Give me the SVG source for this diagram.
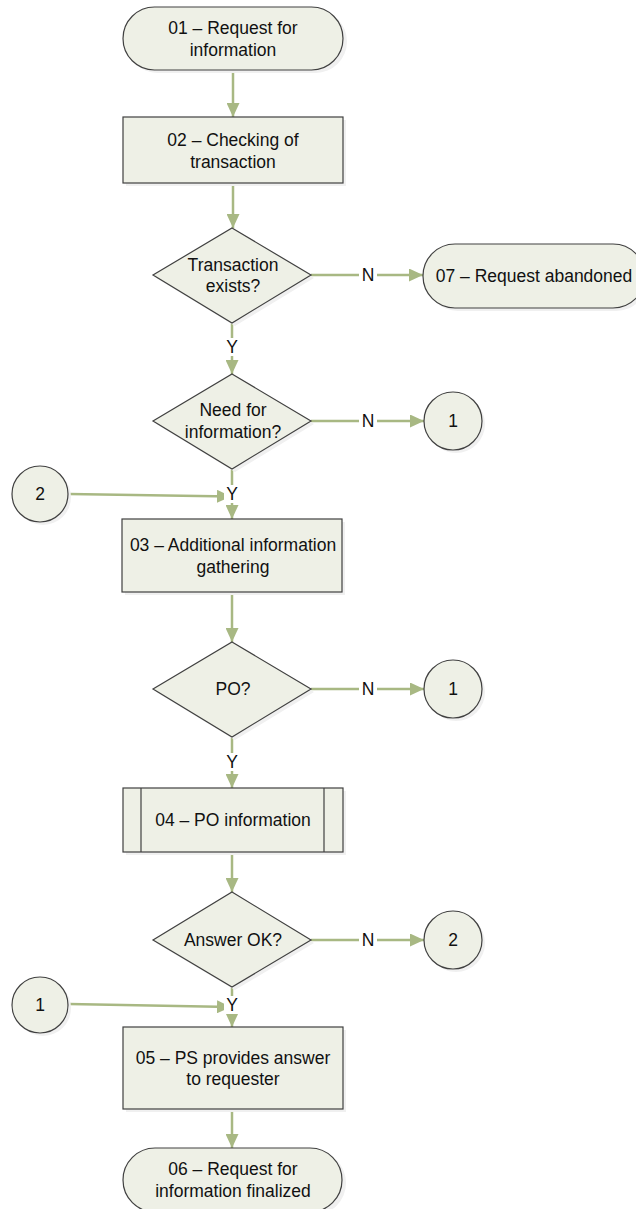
<svg xmlns="http://www.w3.org/2000/svg" width="636" height="1209" viewBox="0 0 636 1209">
  <style>
    .shape { fill: #eef0e6; stroke: #404040; stroke-width: 1.2; }
    .shadow { fill: #f0f0f0; stroke: none; }
    .conn { fill: none; stroke: #a8b883; stroke-width: 2.5; }
    .lbl { font-family: "Liberation Sans", Arial, sans-serif; font-size: 17.5px; fill: #111; text-anchor: middle; }
    .bg { fill: #ffffff; }
  </style>
  <defs>
    <marker id="arrow" markerUnits="userSpaceOnUse" markerWidth="15" markerHeight="13" refX="14" refY="6.5" orient="auto">
      <path d="M0,0 L14,6.5 L0,13 z" fill="#a8b883"/>
    </marker>
  </defs>
  <rect width="636" height="1209" fill="#ffffff"/>

  <!-- connectors -->
  <g id="connectors">
    <line class="conn" x1="233" y1="70" x2="233" y2="117" marker-end="url(#arrow)"/>
    <line class="conn" x1="233" y1="183" x2="233" y2="228" marker-end="url(#arrow)"/>
    <line class="conn" x1="311" y1="275" x2="423" y2="275" marker-end="url(#arrow)"/>
    <line class="conn" x1="232" y1="323" x2="232" y2="374" marker-end="url(#arrow)"/>
    <line class="conn" x1="311" y1="421" x2="424" y2="421" marker-end="url(#arrow)"/>
    <line class="conn" x1="232" y1="469" x2="232" y2="519" marker-end="url(#arrow)"/>
    <line class="conn" x1="69" y1="494" x2="231" y2="496.5" marker-end="url(#arrow)"/>
    <line class="conn" x1="232" y1="592" x2="232" y2="642" marker-end="url(#arrow)"/>
    <line class="conn" x1="311" y1="689" x2="424" y2="689" marker-end="url(#arrow)"/>
    <line class="conn" x1="232" y1="737" x2="232" y2="788" marker-end="url(#arrow)"/>
    <line class="conn" x1="232" y1="852" x2="232" y2="892" marker-end="url(#arrow)"/>
    <line class="conn" x1="311" y1="940" x2="424" y2="940" marker-end="url(#arrow)"/>
    <line class="conn" x1="232" y1="987" x2="232" y2="1027" marker-end="url(#arrow)"/>
    <line class="conn" x1="69" y1="1004" x2="231" y2="1007" marker-end="url(#arrow)"/>
    <line class="conn" x1="232" y1="1109" x2="232" y2="1148" marker-end="url(#arrow)"/>

    <!-- branch labels -->
    <rect class="bg" x="359" y="266" width="18" height="18"/>
    <text class="lbl" x="368" y="281">N</text>
    <rect class="bg" x="224" y="338" width="17" height="18"/>
    <text class="lbl" x="232" y="353">Y</text>
    <rect class="bg" x="359" y="412" width="18" height="18"/>
    <text class="lbl" x="368" y="427">N</text>
    <rect class="bg" x="224" y="485" width="17" height="18"/>
    <text class="lbl" x="232" y="500">Y</text>
    <rect class="bg" x="359" y="680" width="18" height="18"/>
    <text class="lbl" x="368" y="695">N</text>
    <rect class="bg" x="224" y="753" width="17" height="18"/>
    <text class="lbl" x="232" y="768">Y</text>
    <rect class="bg" x="359" y="931" width="18" height="18"/>
    <text class="lbl" x="368" y="946">N</text>
    <rect class="bg" x="224" y="996" width="17" height="18"/>
    <text class="lbl" x="232" y="1011">Y</text>
  </g>

  <!-- 01 start terminal -->
  <g id="n01">
    <rect class="shadow" x="126" y="10" width="221" height="63" rx="31.5"/>
    <rect class="shape" x="123" y="7" width="220" height="63" rx="31.5"/>
    <text class="lbl" x="233" y="34">01 – Request for</text>
    <text class="lbl" x="233" y="56">information</text>
  </g>

  <!-- 02 process -->
  <g id="n02">
    <rect class="shadow" x="126" y="120" width="220" height="66"/>
    <rect class="shape" x="123" y="117" width="220" height="66"/>
    <text class="lbl" x="233" y="146">02 – Checking of</text>
    <text class="lbl" x="233" y="168">transaction</text>
  </g>

  <!-- decision: transaction exists -->
  <g id="d1">
    <polygon class="shadow" points="235,231 314,278 235,326 156,278"/>
    <polygon class="shape" points="232,228 311,275 232,323 153,275"/>
    <text class="lbl" x="233" y="271">Transaction</text>
    <text class="lbl" x="233" y="292">exists?</text>
  </g>

  <!-- 07 abandoned terminal -->
  <g id="n07">
    <rect class="shadow" x="426" y="247" width="222" height="64" rx="32"/>
    <rect class="shape" x="423" y="244" width="222" height="64" rx="32"/>
    <text class="lbl" x="534" y="282">07 – Request abandoned</text>
  </g>

  <!-- decision: need for information -->
  <g id="d2">
    <polygon class="shadow" points="235,377 314,424 235,472 156,424"/>
    <polygon class="shape" points="232,374 311,421 232,469 153,421"/>
    <text class="lbl" x="233" y="416">Need for</text>
    <text class="lbl" x="233" y="438">information?</text>
  </g>

  <!-- off-page reference 1 (top) -->
  <g id="c1a">
    <circle class="shadow" cx="456" cy="424" r="29"/>
    <circle class="shape" cx="453" cy="421" r="29"/>
    <text class="lbl" x="453" y="427">1</text>
  </g>

  <!-- off-page reference 2 (left) -->
  <g id="c2a">
    <circle class="shadow" cx="43" cy="497" r="28"/>
    <circle class="shape" cx="40" cy="494" r="28"/>
    <text class="lbl" x="40" y="500">2</text>
  </g>

  <!-- 03 process -->
  <g id="n03">
    <rect class="shadow" x="125" y="522" width="220" height="73"/>
    <rect class="shape" x="122" y="519" width="220" height="73"/>
    <text class="lbl" x="233" y="551">03 – Additional information</text>
    <text class="lbl" x="233" y="573">gathering</text>
  </g>

  <!-- decision: PO -->
  <g id="d3">
    <polygon class="shadow" points="235,645 314,692 235,740 156,692"/>
    <polygon class="shape" points="232,642 311,689 232,737 153,689"/>
    <text class="lbl" x="233" y="695">PO?</text>
  </g>

  <!-- off-page reference 1 (middle) -->
  <g id="c1b">
    <circle class="shadow" cx="456" cy="692" r="29"/>
    <circle class="shape" cx="453" cy="689" r="29"/>
    <text class="lbl" x="453" y="695">1</text>
  </g>

  <!-- 04 predefined process -->
  <g id="n04">
    <rect class="shadow" x="126" y="791" width="220" height="64"/>
    <rect class="shape" x="123" y="788" width="220" height="64"/>
    <line x1="141" y1="788" x2="141" y2="852" stroke="#404040" stroke-width="1.2"/>
    <line x1="324" y1="788" x2="324" y2="852" stroke="#404040" stroke-width="1.2"/>
    <text class="lbl" x="233" y="826">04 – PO information</text>
  </g>

  <!-- decision: answer OK -->
  <g id="d4">
    <polygon class="shadow" points="235,895 314,943 235,990 156,943"/>
    <polygon class="shape" points="232,892 311,940 232,987 153,940"/>
    <text class="lbl" x="233" y="946">Answer OK?</text>
  </g>

  <!-- off-page reference 2 (right) -->
  <g id="c2b">
    <circle class="shadow" cx="456" cy="943" r="29"/>
    <circle class="shape" cx="453" cy="940" r="29"/>
    <text class="lbl" x="453" y="946">2</text>
  </g>

  <!-- off-page reference 1 (bottom left) -->
  <g id="c1c">
    <circle class="shadow" cx="43" cy="1008" r="28"/>
    <circle class="shape" cx="40" cy="1005" r="28"/>
    <text class="lbl" x="40" y="1011">1</text>
  </g>

  <!-- 05 process -->
  <g id="n05">
    <rect class="shadow" x="126" y="1030" width="220" height="82"/>
    <rect class="shape" x="123" y="1027" width="220" height="82"/>
    <text class="lbl" x="233" y="1064">05 – PS provides answer</text>
    <text class="lbl" x="233" y="1085">to requester</text>
  </g>

  <!-- 06 end terminal -->
  <g id="n06">
    <rect class="shadow" x="126" y="1151" width="220" height="64" rx="32"/>
    <rect class="shape" x="123" y="1148" width="219" height="64" rx="32"/>
    <text class="lbl" x="233" y="1175">06 – Request for</text>
    <text class="lbl" x="233" y="1197">information finalized</text>
  </g>
</svg>
